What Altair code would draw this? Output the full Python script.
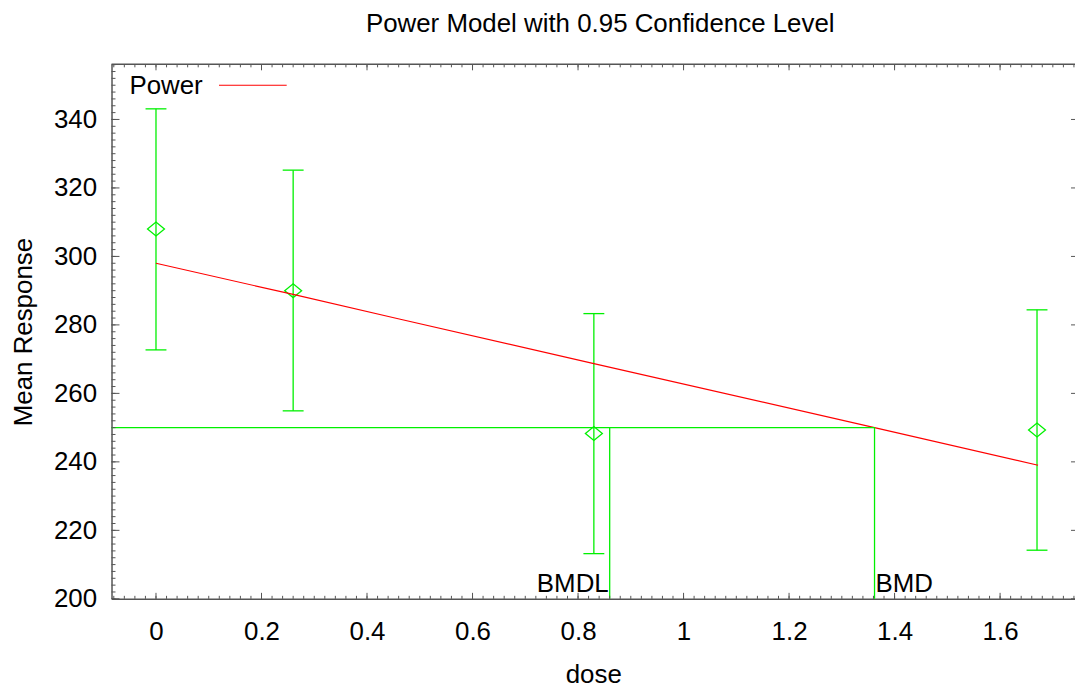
import altair as alt
import pandas as pd

# ---- data ----
doses = [0.0, 0.26, 0.83, 1.67]
means = [308.0, 290.0, 248.3, 249.3]
lowers = [272.7, 254.9, 213.2, 214.2]
uppers = [343.1, 325.2, 283.3, 284.4]

fit_dose = [0.0, 0.26, 0.459, 0.83, 1.362, 1.672]
fit_resp = [298.0, 288.9, 281.8, 268.7, 250.0, 239.0]

bmd_level = 250.0
bmdl = 0.860
bmd = 1.362

x_ticks = [0, 0.2, 0.4, 0.6, 0.8, 1.0, 1.2, 1.4, 1.6]
y_ticks = [200, 220, 240, 260, 280, 300, 320, 340]

XMIN, XMAX = -0.0843, 1.742
YMIN, YMAX = 200, 356.1
W, H = 968, 537
FONT = "Liberation Sans"
FS = 26
GREEN = "#00f000"
RED = "#ff0000"
AX = "#555555"

x_minor = [round(-0.08 + 0.02 * i, 2) for i in range(92)]
x_minor = [v for v in x_minor if XMIN <= v <= XMAX]
y_minor = [200 + 2 * i for i in range(79)]
y_minor = [v for v in y_minor if v <= YMAX]

xs = alt.Scale(domain=[XMIN, XMAX], nice=False, zero=False)
ys = alt.Scale(domain=[YMIN, YMAX], nice=False, zero=False)

XAX = alt.Axis(values=x_ticks, format="~g", ticks=False, tickSize=0, labelPadding=19.5,
               titlePadding=18, grid=False)
YAX = alt.Axis(values=y_ticks, format="d", ticks=False, tickSize=0, labelPadding=15,
               titlePadding=17, grid=False)


def X(field):
    return alt.X(field, scale=xs, title="dose", axis=XAX)


def Y(field):
    return alt.Y(field, scale=ys, title="Mean Response", axis=YAX)


pts = pd.DataFrame({"dose": doses, "mean": means, "lo": lowers, "hi": uppers})
fit = pd.DataFrame({"dose": fit_dose, "resp": fit_resp})

base = alt.Chart(pts)

diamond = "M -1 0 L 0 -0.82 L 1 0 L 0 0.82 Z"

points = base.mark_point(shape=diamond, size=289, filled=False, color=GREEN, strokeWidth=1.3, opacity=1).encode(
    x=X("dose:Q"), y=Y("mean:Q"))

bars = base.mark_rule(color=GREEN, strokeWidth=1.3).encode(
    x=X("dose:Q"), y=Y("lo:Q"), y2="hi:Q")
cap_lo = base.mark_tick(orient="horizontal", size=21, thickness=1.3, color=GREEN, opacity=1).encode(
    x=X("dose:Q"), y=Y("lo:Q"))
cap_hi = base.mark_tick(orient="horizontal", size=21, thickness=1.3, color=GREEN, opacity=1).encode(
    x=X("dose:Q"), y=Y("hi:Q"))

fit_line = alt.Chart(fit).mark_line(color=RED, strokeWidth=1.2).encode(
    x=X("dose:Q"), y=Y("resp:Q"))

bmd_h = alt.Chart(pd.DataFrame({"x0": [XMIN], "x1": [bmd], "y": [bmd_level]})).mark_rule(
    color=GREEN, strokeWidth=1.3).encode(x=X("x0:Q"), x2="x1:Q", y=Y("y:Q"))
bmd_v = alt.Chart(pd.DataFrame({"x": [bmdl, bmd], "y0": [YMIN, YMIN], "y1": [bmd_level, bmd_level]})).mark_rule(
    color=GREEN, strokeWidth=1.3).encode(x=X("x:Q"), y=Y("y0:Q"), y2="y1:Q")

lbl_df = pd.DataFrame({"x": [bmdl, bmd], "y": [YMIN, YMIN], "t": ["BMDL", "BMD"]})
lbl_bmdl = alt.Chart(lbl_df.iloc[[0]]).mark_text(align="right", baseline="alphabetic", dy=-7, dx=-1,
                                                 font=FONT, fontSize=FS, color="black").encode(
    x=X("x:Q"), y=Y("y:Q"), text="t:N")
lbl_bmd = alt.Chart(lbl_df.iloc[[1]]).mark_text(align="left", baseline="alphabetic", dy=-7, dx=1,
                                                font=FONT, fontSize=FS, color="black").encode(
    x=X("x:Q"), y=Y("y:Q"), text="t:N")


# ---- inward tick marks ----
def xticks(vals, y0, y1):
    return alt.Chart(pd.DataFrame({"dose": vals})).mark_rule(color=AX, strokeWidth=1).encode(
        x=X("dose:Q"), y=alt.value(y0), y2=alt.value(y1))


def yticks(vals, x0, x1):
    return alt.Chart(pd.DataFrame({"resp": vals})).mark_rule(color=AX, strokeWidth=1).encode(
        y=Y("resp:Q"), x=alt.value(x0), x2=alt.value(x1))


tick_layers = [
    xticks(x_minor, H, H - 3), xticks(x_ticks, H, H - 6),
    xticks(x_minor, 0, 3), xticks(x_ticks, 0, 6),
    yticks(y_minor, 0, 4), yticks(y_ticks, 0, 8),
    yticks(y_ticks, W, W - 4),
]

top_line = alt.Chart(pd.DataFrame({"k": [0]})).mark_rule(color=AX, strokeWidth=1.5).encode(
    x=alt.value(0), x2=alt.value(W), y=alt.value(0))

# ---- legend ----
leg_text = alt.Chart(pd.DataFrame({"t": ["Power"]})).mark_text(
    align="left", baseline="alphabetic", font=FONT, fontSize=FS, color="black").encode(
    x=alt.value(18), y=alt.value(30), text="t:N")
leg_line = alt.Chart(pd.DataFrame({"t": ["Power"]})).mark_rule(color=RED, strokeWidth=1.2).encode(
    x=alt.value(108), x2=alt.value(176), y=alt.value(21))

chart = alt.layer(
    points, bars, cap_lo, cap_hi, fit_line, bmd_h, bmd_v, lbl_bmdl, lbl_bmd,
    *tick_layers, top_line, leg_text, leg_line,
).properties(
    width=W, height=H,
    title=alt.TitleParams("Power Model with 0.95 Confidence Level", font=FONT, fontSize=FS,
                          fontWeight="normal", color="black", anchor="middle", offset=27, dx=7),
    autosize=alt.AutoSizeParams(type="none"),
    padding={"left": 104, "top": 55, "right": 0, "bottom": 90},
).configure_view(stroke=None).configure_axis(
    domainColor=AX, domainWidth=1.5, labelFont=FONT, labelFontSize=FS, labelColor="black",
    titleFont=FONT, titleFontSize=FS, titleFontWeight="normal", titleColor="black",
)

chart.save("out.html", embed_options={"renderer": "svg", "actions": False})
